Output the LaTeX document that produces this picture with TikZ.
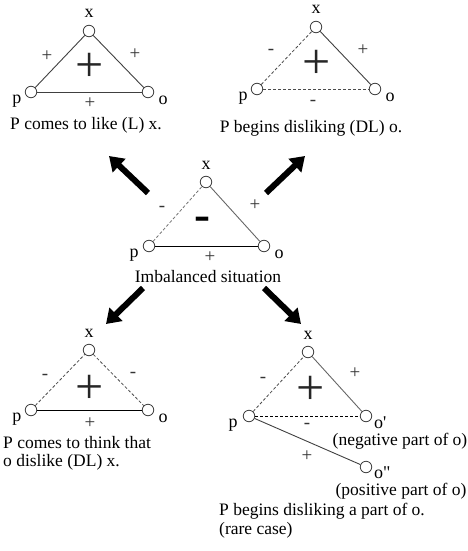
\documentclass[tikz,border=0pt]{standalone}
\usepackage{fontspec}
\setmainfont{Liberation Serif}
\font\primefnt="Liberation Serif" at 18pt
\usetikzlibrary{arrows.meta}
\begin{document}
\begin{tikzpicture}[x=1pt,y=-1pt,
  vert/.style={circle,draw=black!75,line width=0.8pt,fill=white,minimum size=11.5pt,inner sep=0pt},
  lbl/.style={font=\fontsize{17.5}{18.5}\selectfont,inner sep=0pt},
  vlbl/.style={font=\fontsize{18}{18}\selectfont,inner sep=0pt,anchor=base},
  sgn/.style={font=\fontsize{19}{19}\selectfont,inner sep=0pt,text=black!80},
  bigsgn/.style={font=\fontsize{50}{50}\selectfont,inner sep=0pt,text=black!85},
  bigneg/.style={font=\fontsize{48}{48}\selectfont\bfseries,inner sep=0pt},
  posline/.style={draw=black!75,line width=0.9pt},
  negline/.style={draw=black!70,line width=0.8pt,dash pattern=on 3pt off 2pt},
  bigarrow/.style={line width=6pt,-{Triangle[length=14pt,width=18pt]}}]
\useasboundingbox (0,0) rectangle (467,551);

% ---------- top left ----------
\node[vert] (p1) at (31,92) {};
\node[vert] (x1) at (89,31) {};
\node[vert] (o1) at (148,92) {};
\draw[posline] (p1) -- (x1);
\draw[posline] (x1) -- (o1);
\draw[posline] (p1) -- (o1);
\node[vlbl] (x1l) at (89,18) {x};
\node[vlbl] (p1l) at (17,103) {p};
\node[vlbl] (o1l) at (163,104) {o};
\node[sgn] (s1a) at (47,56) {+};
\node[sgn] (s1b) at (135,54) {+};
\node[sgn] (s1c) at (90,103) {+};
\node[bigsgn] (s1d) at (90,67) {+};
\node[lbl] (c1) at (86,125) {P comes to like (L) x.};

% ---------- top right ----------
\node[vert] (p2) at (257,89) {};
\node[vert] (x2) at (316,27) {};
\node[vert] (o2) at (375,89) {};
\draw[negline] (p2) -- (x2);
\draw[posline] (x2) -- (o2);
\draw[negline] (p2) -- (o2);
\node[vlbl] (x2l) at (316,14) {x};
\node[vlbl] (p2l) at (243,100) {p};
\node[vlbl] (o2l) at (390,101) {o};
\node[sgn] (s2a) at (271,52) {-};
\node[sgn] (s2b) at (363,50) {+};
\node[sgn] (s2c) at (313,103) {-};
\node[bigsgn] (s2d) at (317,64) {+};
\node[lbl] (c2) at (311,128) {P begins disliking (DL) o.};

% ---------- middle ----------
\node[vert] (p3) at (149,246) {};
\node[vert] (x3) at (206,182) {};
\node[vert] (o3) at (264,246) {};
\draw[negline,draw=black!55] (p3) -- (x3);
\draw[posline,draw=black!60] (x3) -- (o3);
\draw[posline,draw=black] (p3) -- (o3);
\node[vlbl] (x3l) at (206,169) {x};
\node[vlbl] (p3l) at (134,257) {p};
\node[vlbl] (o3l) at (279,258) {o};
\node[sgn] (s3a) at (162,209) {-};
\node[sgn] (s3b) at (255,205) {+};
\node[sgn] (s3c) at (210,257) {+};
\node[bigneg] (s3d) at (202,224) {-};
\node[lbl] (c3) at (208,277) {Imbalanced situation};

% ---------- arrows ----------
\coordinate (a1s) at (148,193); \coordinate (a1e) at (109,156);
\coordinate (a2s) at (266,193); \coordinate (a2e) at (305,156);
\coordinate (a3s) at (143,288); \coordinate (a3e) at (106,324);
\coordinate (a4s) at (264,288); \coordinate (a4e) at (301,324);
\draw[bigarrow] (a1s) -- (a1e);
\draw[bigarrow] (a2s) -- (a2e);
\draw[bigarrow] (a3s) -- (a3e);
\draw[bigarrow] (a4s) -- (a4e);

% ---------- bottom left ----------
\node[vert] (p4) at (31,410) {};
\node[vert] (x4) at (89,350) {};
\node[vert] (o4) at (148,410) {};
\draw[negline] (p4) -- (x4);
\draw[negline] (x4) -- (o4);
\draw[posline,draw=black] (p4) -- (o4);
\node[vlbl] (x4l) at (89,337) {x};
\node[vlbl] (p4l) at (17,421) {p};
\node[vlbl] (o4l) at (163,422) {o};
\node[sgn] (s4a) at (45,377) {-};
\node[sgn] (s4b) at (133,375) {-};
\node[sgn] (s4c) at (90,423) {+};
\node[bigsgn] (s4d) at (90,389) {+};
\node[lbl,anchor=north west,align=left] (c4) at (3,436) {P comes to think that\\o dislike (DL) x.};

% ---------- bottom right ----------
\node[vert] (p5) at (249,416) {};
\node[vert] (x5) at (308,352) {};
\node[vert] (o5) at (366,416) {};
\node[vert] (q5) at (366,467) {};
\draw[negline] (p5) -- (x5);
\draw[posline,draw=black!60] (x5) -- (o5);
\draw[negline,draw=black] (p5) -- (o5);
\draw[posline,draw=black!75] (p5) -- (q5);
\node[vlbl] (x5l) at (308,339) {x};
\node[vlbl] (p5l) at (233,427) {p};
\node[vlbl,anchor=base west] (o5l) at (374,428) {\primefnt o'};
\node[vlbl,anchor=base west] (q5l) at (374,478) {\primefnt o"};
\node[lbl] (n5) at (400,441) {(negative part of o)};
\node[lbl] (m5) at (401,491) {(positive part of o)};
\node[sgn] (s5a) at (263,380) {-};
\node[sgn] (s5b) at (355,373) {+};
\node[sgn] (s5c) at (307,426) {-};
\node[sgn] (s5d) at (307,456) {+};
\node[bigsgn] (s5e) at (311,390) {+};
\node[lbl,anchor=north west,align=left] (c5) at (219,503) {P begins disliking a part of o.\\(rare case)};
\end{tikzpicture}
\end{document}
